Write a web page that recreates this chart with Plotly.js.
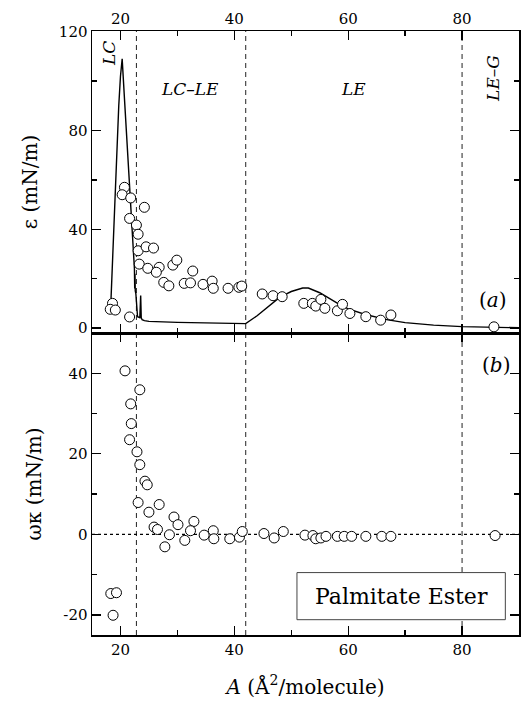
<!DOCTYPE html>
<html>
<head>
<meta charset="utf-8">
<script src="https://cdn.plot.ly/plotly-3.0.1.min.js"></script>
<style>html,body{margin:0;padding:0;background:#fff;}#chart{width:526px;height:708px;}</style>
</head>
<body>
<div id="chart"></div>
<script>
// Panel (a): elasticity epsilon vs area A
const epsA = [18.6, 18.2, 19.1, 21.6, 20.7, 20.3, 21.8, 24.2, 21.6, 22.8, 23.1, 23.1, 24.5, 25.8, 23.3, 24.8, 26.8, 26.3, 27.6, 28.5, 29.2, 29.9, 31.2, 32.3, 32.7, 34.5, 36.1, 36.3, 38.9, 40.8, 41.3, 44.9, 46.8, 48.4, 52.2, 53.7, 54.3, 55.2, 55.9, 58.1, 59.0, 60.3, 63.1, 65.7, 67.5, 85.6];
const epsVal = [10.0, 7.6, 7.3, 4.5, 57.0, 54.0, 52.7, 48.9, 44.4, 41.7, 38.0, 31.3, 32.9, 32.4, 25.9, 24.2, 24.6, 22.6, 18.5, 17.1, 25.5, 27.5, 18.1, 18.3, 23.1, 17.7, 19.0, 16.1, 16.1, 16.5, 17.0, 13.8, 13.1, 12.7, 10.0, 10.0, 8.9, 11.6, 8.0, 7.0, 9.6, 5.9, 4.6, 3.2, 5.3, 0.5];

// Panel (a): theoretical curve
const curveA = [18.3, 18.8, 19.3, 19.7, 20.0, 20.3, 20.7, 21.1, 21.5, 22.0, 22.45, 22.5, 22.55, 22.6, 22.7, 23.0, 23.4, 23.55, 23.65, 23.8, 24.2, 25.0, 30.0, 35.0, 40.0, 42.0, 44.0, 46.0, 48.0, 50.0, 52.0, 53.0, 55.0, 58.0, 60.0, 63.0, 67.0, 70.0, 75.0, 80.0, 85.0, 90.0];
const curveEps = [9.5, 40, 70, 90, 102, 109, 93, 77, 62, 42, 24, 16, 22, 15, 14, 4.6, 4.2, 13.2, 4.2, 3.4, 3.0, 2.7, 2.3, 2.0, 1.7, 1.8, 5.0, 8.8, 12.5, 14.8, 16.2, 16.2, 14.3, 10.2, 7.8, 5.5, 3.3, 2.2, 1.2, 0.6, 0.3, 0.1];

// Panel (b): omega kappa vs area A
const wkA = [20.8, 23.4, 21.8, 21.9, 21.6, 22.9, 23.4, 24.3, 24.7, 23.1, 26.8, 25.0, 29.4, 30.1, 32.9, 25.9, 26.5, 32.3, 28.6, 27.8, 31.3, 34.7, 36.3, 36.4, 39.2, 40.9, 41.4, 45.2, 47.0, 48.6, 52.4, 53.8, 54.3, 55.2, 56.1, 58.1, 59.3, 60.6, 63.1, 65.9, 67.5, 85.8, 18.3, 19.3, 18.7];
const wkVal = [40.6, 35.9, 32.4, 27.5, 23.5, 20.5, 17.3, 13.2, 12.3, 7.9, 7.4, 5.5, 4.3, 2.4, 3.2, 1.8, 1.2, 0.9, -0.1, -3.1, -1.5, -0.2, 0.9, -1.1, -1.1, -0.7, 0.7, 0.2, -0.9, 0.7, -0.2, -0.3, -1.1, -0.9, -0.5, -0.5, -0.5, -0.5, -0.5, -0.5, -0.5, -0.3, -14.7, -14.5, -20.1];

// Phase boundaries and tick labels
const boundaries = [22.8, 42.0, 80.0];
const xTicks = [20, 40, 60, 80];
const epsTicks = [0, 40, 80, 120];
const wkTicks = [-20, 0, 20, 40];
const wkTickText = ['-20', '0', '20', '40'];

const FONT = 'DejaVu Serif, Liberation Serif, serif';
const markerStyle = {symbol: 'circle', size: 10, color: '#fff', line: {color: '#000', width: 1}};

const traces = [
  {x: curveA, y: curveEps, xaxis: 'x2', yaxis: 'y2', mode: 'lines', line: {color: '#000', width: 1.4}, hoverinfo: 'skip'},
  {x: epsA, y: epsVal, xaxis: 'x2', yaxis: 'y2', mode: 'markers', marker: markerStyle},
  {x: wkA, y: wkVal, xaxis: 'x', yaxis: 'y', mode: 'markers', marker: markerStyle}
];

const axisCommon = {
  showline: true, linecolor: '#000', linewidth: 1.5, mirror: 'allticks',
  ticks: 'inside', ticklen: 9, tickwidth: 1.3, tickcolor: '#000',
  showgrid: false, zeroline: false,
  tickfont: {family: FONT, size: 15, color: '#000'}
};

const shapes = boundaries.map(b => ({
  type: 'line', xref: 'x', yref: 'paper', x0: b, x1: b, y0: 0, y1: 1,
  line: {color: '#222', width: 1, dash: '5px,4px'}, layer: 'below'
}));
shapes.push({type: 'line', xref: 'x', yref: 'y', x0: 15, x1: 90, y0: 0, y1: 0,
  line: {color: '#000', width: 1.2, dash: 'dot'}, layer: 'below'});
shapes.push({type: 'rect', xref: 'x', yref: 'y', x0: 51.0, x1: 87.6, y0: -21.2, y1: -9.5,
  fillcolor: '#fff', line: {color: '#444', width: 1}, layer: 'above'});

const annFont = {family: FONT, size: 17, color: '#000', style: 'italic'};
const annotations = [
  {xref: 'x2', yref: 'y2', x: 18.0, y: 111, text: '<i>LC</i>', textangle: -90, showarrow: false, font: annFont},
  {xref: 'x2', yref: 'y2', x: 32.2, y: 97, text: '<i>LC–LE</i>', showarrow: false, font: annFont},
  {xref: 'x2', yref: 'y2', x: 60.9, y: 97, text: '<i>LE</i>', showarrow: false, font: annFont},
  {xref: 'x2', yref: 'y2', x: 85.3, y: 101, text: '<i>LE–G</i>', textangle: -90, showarrow: false, font: annFont},
  {xref: 'x2', yref: 'y2', x: 85.5, y: 11.3, text: '(<i>a</i>)', showarrow: false, font: {family: FONT, size: 20, color: '#000'}},
  {xref: 'x', yref: 'y', x: 86.0, y: 42.0, text: '(<i>b</i>)', showarrow: false, font: {family: FONT, size: 20, color: '#000'}},
  {xref: 'x', yref: 'y', x: 69.3, y: -15.35, text: 'Palmitate Ester', showarrow: false, font: {family: FONT, size: 22, color: '#000'}}
];

const layout = {
  width: 526, height: 708,
  margin: {l: 92, r: 7, t: 31, b: 73},
  paper_bgcolor: '#fff', plot_bgcolor: 'rgba(0,0,0,0)',
  showlegend: false,
  font: {family: FONT, color: '#000'},
  xaxis: Object.assign({}, axisCommon, {
    domain: [0, 1], anchor: 'y', range: [15, 90], tickvals: xTicks,
    minor: {dtick: 10, tick0: 0, ticks: 'inside', ticklen: 5, tickcolor: '#000'},
    title: {text: '<i>A</i> (Å<sup>2</sup>/molecule)', font: {family: FONT, size: 20, color: '#000'}, standoff: 22}
  }),
  xaxis2: Object.assign({}, axisCommon, {
    anchor: 'y2', matches: 'x', side: 'top', range: [15, 90], tickvals: xTicks,
    minor: {dtick: 10, tick0: 0, ticks: 'inside', ticklen: 5, tickcolor: '#000'}
  }),
  yaxis: Object.assign({}, axisCommon, {
    domain: [0, 0.5], anchor: 'x', range: [-25, 50], tickvals: wkTicks, ticktext: wkTickText,
    minor: {dtick: 10, tick0: 0, ticks: 'inside', ticklen: 5, tickcolor: '#000'},
    title: {text: 'ωκ (mN/m)', font: {family: FONT, size: 20, color: '#000'}, standoff: 16}
  }),
  yaxis2: Object.assign({}, axisCommon, {
    domain: [0.5, 1], anchor: 'x2', range: [-2, 120.3], tickvals: epsTicks,
    minor: {dtick: 20, tick0: 0, ticks: 'inside', ticklen: 5, tickcolor: '#000'},
    title: {text: 'ε (mN/m)', font: {family: FONT, size: 20, color: '#000'}, standoff: 16}
  }),
  shapes: shapes,
  annotations: annotations
};

Plotly.newPlot('chart', traces, layout, {displayModeBar: false, staticPlot: true});
</script>
</body>
</html>
